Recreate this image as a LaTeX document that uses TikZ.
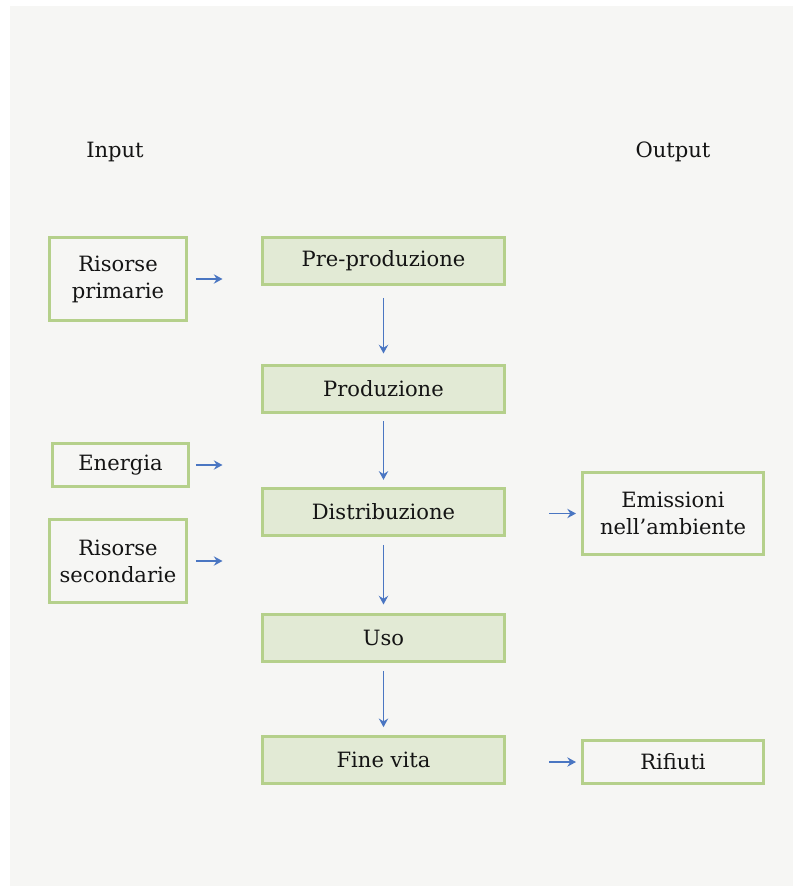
\documentclass[tikz,border=0pt]{standalone}
\usepackage{fontspec}
\setmainfont{DejaVu Serif}
\usetikzlibrary{arrows.meta}

\definecolor{panel}{HTML}{F6F6F4}
\definecolor{boxline}{HTML}{B5D08B}
\definecolor{stagefill}{HTML}{E2EAD5}
\definecolor{flowblue}{HTML}{4A76C2}
\definecolor{ink}{HTML}{141414}

\tikzset{
  box/.style={draw=boxline, line width=2.25pt, outer sep=0pt, inner sep=0pt,
    align=center, text=ink, font=\fontsize{15.8}{20.2}\selectfont},
  sidebox/.style={box, fill=panel},
  stage/.style={box, fill=stagefill, minimum width=181.5pt, minimum height=35.25pt},
  flow/.style={draw=flowblue, line width=1.25pt, -{Stealth[length=6.5pt,width=7pt,inset=2.2pt]}},
  heading/.style={text=ink, font=\fontsize{15.8}{20.2}\selectfont}
}

\begin{document}
\begin{tikzpicture}[x=0.75pt,y=-0.75pt]
  % page and panel
  \useasboundingbox (0,0) rectangle (793,886);
  \fill[white] (0,0) rectangle (793,886);
  \fill[panel] (10,6) rectangle (793,886);

  % column headings
  \node[heading] (hin) at (115,152) {Input};
  \node[heading] (hout) at (673,152) {Output};

  % life-cycle stages
  \node[stage] (pre)  at (383.5,261) {Pre-produzione};
  \node[stage] (prod) at (383.5,389) {Produzione};
  \node[stage] (dist) at (383.5,512) {Distribuzione};
  \node[stage] (uso)  at (383.5,638) {Uso};
  \node[stage] (fine) at (383.5,760) {Fine vita};

  % inputs
  \node[sidebox, minimum width=102.75pt, minimum height=62.25pt] (rp) at (118,279) {Risorse\\primarie};
  \node[sidebox, minimum width=102pt, minimum height=32.25pt] (en) at (120.5,465) {Energia};
  \node[sidebox, minimum width=102.75pt, minimum height=62.25pt] (rs) at (118,561) {Risorse\\secondarie};

  % outputs
  \node[sidebox, minimum width=135.75pt, minimum height=61.5pt] (em) at (673,513.5) {Emissioni\\nell’ambiente};
  \node[sidebox, minimum width=135.75pt, minimum height=32.25pt] (ri) at (673,762) {Rifiuti};

  % stage sequence
  \draw[flow, shorten <=10pt, shorten >=9pt] (pre.south) -- (prod.north);
  \draw[flow, shorten <=6.5pt, shorten >=6.5pt] (prod.south) -- (dist.north);
  \draw[flow, shorten <=7pt, shorten >=7.5pt] (dist.south) -- (uso.north);
  \draw[flow, shorten <=7pt, shorten >=7pt] (uso.south) -- (fine.north);

  % input arrows
  \draw[flow, shorten <=7pt, shorten >=30pt] (rp.east) -- (rp.east -| pre.west);
  \draw[flow, shorten <=5.6pt, shorten >=30pt] (en.east) -- (en.east -| dist.west);
  \draw[flow, shorten <=7pt, shorten >=30pt] (rs.east) -- (rs.east -| uso.west);

  % output arrows
  \draw[flow, shorten <=33.4pt, shorten >=4.9pt] (dist.east |- em.west) -- (em.west);
  \draw[flow, shorten <=33.4pt, shorten >=4.9pt] (fine.east |- ri.west) -- (ri.west);
\end{tikzpicture}
\end{document}
